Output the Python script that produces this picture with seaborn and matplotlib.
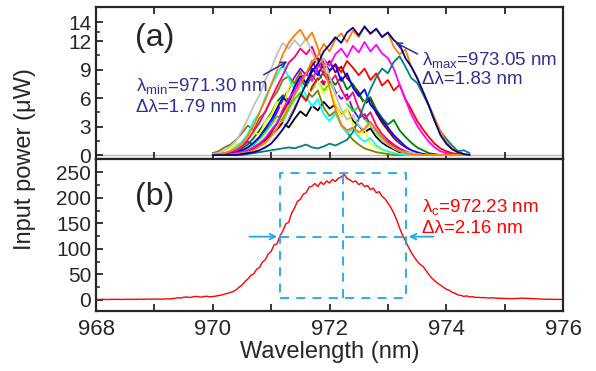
import numpy as np
import pandas as pd
import matplotlib
matplotlib.use('Agg')
import matplotlib.pyplot as plt
import seaborn as sns

# ── (a) individual spectra, sampled every 0.1 nm from 970.0 to 974.4 nm
WL_A = np.round(np.arange(970.0, 974.45, 0.1), 2)

yellow = [0.1,0.3,0.2,0.6,1.2, 1.0,1.8,2.4,2.1,3.5, 4.2,5.6,4.9,7.1,7.8, 8.6,7.4,8.9,7.7,6.5, 7.2,5.4,4.1,4.8,3.2,
          2.1,2.7,1.2,0.8,0.5, 0.3,0.2,0.1,0.1,0.0, 0,0,0,0,0, 0,0,0,0,0]
olive = [0.2,0.4,0.8,1.1,1.6, 2.3,3.1,2.6,3.9,4.5, 5.8,6.6,7.9,8.3,7.5, 8.8,7.2,6.1,6.8,5.0, 4.1,4.6,3.2,2.4,1.6,
         1.1,0.7,0.5,0.3,0.2, 0.1,0,0,0,0, 0,0,0,0,0, 0,0,0,0,0]
ltgray = [0.1,0.2,0.5,0.9,1.5, 2.6,3.8,5.2,6.3,7.9, 9.1,10.6,11.8,11.2,12.1, 11.4,12.3,10.8,9.6,10.2, 8.3,6.4,4.8,3.7,4.2,
          3.1,2.6,3.3,2.2,1.5, 1.1,0.7,0.4,0.3,0.2, 0.1,0,0,0,0, 0,0,0,0,0]
cyan = [0,0.1,0.2,0.4,0.9, 1.4,2.2,3.6,4.4,6.1, 7.3,8.4,9.6,8.1,6.9, 7.7,6.2,5.1,5.9,4.3, 3.6,4.4,3.1,2.3,2.8,
        1.9,1.4,1.8,1.0,0.6, 0.4,0.2,0.1,0,0, 0,0,0,0,0, 0,0,0,0,0]
pink = [0,0.1,0.2,0.3,0.5, 0.9,1.6,2.5,3.4,4.6, 5.9,7.2,8.4,9.7,10.3, 11.2,10.6,11.4,9.8,8.5, 7.6,8.4,6.9,5.8,6.6,
        4.9,3.8,4.5,3.1,2.2, 1.6,1.1,0.7,0.4,0.2, 0.1,0,0,0,0, 0,0,0,0,0]
magenta = [0,0,0,0.1,0.2, 0.3,0.5,0.8,1.2,1.8, 2.6,3.4,4.8,5.9,6.7, 7.9,8.6,7.8,9.3,10.1, 9.4,10.6,11.2,10.3,11.5,
           10.8,11.9,10.9,11.6,10.7, 10.2,9.1,7.4,5.8,4.3, 3.1,2.2,1.4,0.8,0.4, 0.2,0.1,0,0,0]
orange_r = [0,0,0,0,0.1, 0.2,0.3,0.5,0.9,1.3, 2.0,2.8,3.9,5.1,6.3, 7.4,8.6,9.8,10.5,11.7, 10.9,12.2,12.8,11.9,13.1,
            12.4,13.6,12.7,13.2,12.5, 12.9,11.4,10.6,11.1,9.3, 8.2,6.6,5.3,3.9,2.5, 1.4,0.7,0.3,0.1,0]
orange_l = [0,0.1,0.2,0.4,0.7, 1.2,2.0,3.1,4.5,5.8, 7.4,8.9,10.6,11.8,12.6, 13.2,12.1,12.9,11.3,9.4, 7.1,4.8,3.2,2.6,2.9,
            2.4,2.8,3.5,2.7,1.9, 1.2,0.8,0.4,0.2,0.1, 0,0,0,0,0, 0,0,0,0,0]
navy = [0,0,0,0,0, 0.1,0.2,0.3,0.5,0.8, 1.2,1.9,2.7,3.6,4.8, 6.2,7.5,8.8,9.6,10.9, 11.6,12.4,11.8,12.9,13.4,
        12.6,13.5,12.8,13.3,12.4, 12.9,12.1,11.6,10.2,9.3, 8.1,6.7,5.2,3.6,2.1, 1.2,0.6,0.3,0.1,0]
blue = [0,0,0.1,0.2,0.3, 0.5,0.8,1.3,1.9,2.8, 3.7,4.9,6.1,5.4,7.2, 8.3,7.6,9.1,8.4,9.8, 8.9,9.5,7.8,8.6,7.1,
        6.2,6.9,5.3,4.6,3.7, 2.9,2.1,1.5,0.9,0.5, 0.3,0.1,0,0,0, 0,0,0,0,0]
red = [0,0,0,0,0.1, 0.2,0.3,0.5,0.7,1.1, 1.6,2.3,3.2,4.1,5.3, 6.4,5.7,7.2,8.1,7.4, 8.8,9.6,8.7,9.9,9.2,
       8.4,9.1,7.9,8.6,7.3, 7.9,6.8,7.4,5.9,4.8, 3.6,2.7,1.9,1.2,0.7, 0.4,0.2,0.1,0,0]
green = [0,0,0.1,0.2,0.4, 0.7,1.1,1.8,2.6,3.5, 4.4,5.6,6.3,5.8,7.1, 7.9,7.2,8.4,7.6,8.8, 8.1,7.4,8.2,6.9,7.5,
         6.3,5.6,6.1,4.8,3.9, 3.2,3.7,2.6,1.9,1.3, 0.8,0.5,0.2,0.1,0, 0,0,0,0,0]
lime = [0,0,0,0.1,0.2, 0.4,0.7,1.1,1.7,2.4, 3.2,4.1,3.6,4.8,5.9, 6.6,5.8,6.9,7.7,6.8, 7.5,6.2,6.9,5.4,4.6,
        5.1,3.8,3.1,2.4,1.8, 1.2,0.8,0.5,0.3,0.1, 0,0,0,0,0, 0,0,0,0,0]
teal = [0,0,0,0,0, 0,0.1,0.2,0.3,0.4, 0.5,0.6,0.7,0.8,0.7, 0.9,1.1,0.8,0.7,0.9, 1.2,1.0,1.3,1.6,2.4,
        3.8,5.4,6.9,8.2,9.1, 8.6,9.8,10.4,9.3,8.1, 7.6,6.4,5.2,3.6,2.5, 1.7,1.0,0.4,0.5,0.2]
black = [0,0,0,0.1,0.1, 0.2,0.4,0.8,1.2,1.6, 2.1,2.7,3.4,2.9,3.8, 4.6,4.1,5.2,4.7,5.6, 4.9,5.3,4.2,4.8,3.6,
         3.1,2.4,2.8,1.9,1.3, 0.9,0.6,0.3,0.2,0.1, 0,0,0,0,0, 0,0,0,0,0]
purple = [0,0,0.1,0.2,0.5, 0.9,1.4,1.1,1.9,2.6, 3.3,4.5,5.8,6.9,8.2, 9.1,8.4,9.9,8.8,7.6, 8.1,6.7,5.9,6.4,4.8,
          3.9,4.3,3.2,2.6,1.9, 1.4,0.9,0.6,0.3,0.2, 0.1,0,0,0,0, 0,0,0,0,0]
wine = [0,0,0,0,0.1, 0.2,0.4,0.7,1.1,1.6, 2.4,3.3,4.5,5.6,6.8, 7.9,8.6,9.4,10.2,9.1, 9.9,8.7,9.3,8.1,7.4,
        6.6,5.3,5.9,4.4,3.4, 2.6,1.8,1.2,0.7,0.4, 0.2,0.1,0,0,0, 0,0,0,0,0]
white = [0,0,0,0,0, 0.1,0.2,0.4,0.7,1.1, 1.6,2.3,3.1,4.2,5.4, 6.3,7.1,6.4,7.6,8.2, 7.3,6.1,6.8,5.5,6.2,
         4.9,5.6,4.3,3.6,2.8, 2.1,1.5,1.0,0.6,0.3, 0.1,0,0,0,0, 0,0,0,0,0]

# draw order (back -> front) and Origin-like colours
RUNS = [
    ('black', black, '#000000'), ('purple', purple, '#8000FF'), ('wine', wine, '#800000'),
    ('lime', lime, '#00FF00'), ('green', green, '#008000'), ('yellow', yellow, '#FFFF00'),
    ('olive', olive, '#808000'), ('cyan', cyan, '#00FFFF'), ('red', red, '#FF0000'),
    ('blue', blue, '#0000FF'), ('white', white, '#FFFFFF'), ('magenta', magenta, '#FF00FF'),
    ('pink', pink, '#FF0080'), ('teal', teal, '#008080'), ('ltgray', ltgray, '#C0C0C0'),
    ('orange_l', orange_l, '#FF8000'), ('orange_r', orange_r, '#FF8000'), ('navy', navy, '#000090'),
]

# ── (b) summed spectrum, every 0.05 nm from 968.00 to 976.00 nm
sum_power = [
    1.2,1.0,1.3,1.1,0.9,1.2,1.4,1.1,1.3,1.0,1.2,1.5,1.3,1.1,1.4,1.6,1.3,1.5,1.8,1.4,1.7,1.9,1.6,2.0,2.2,1.9,2.4,
    3.1,4.5,3.8,5.2,6.0,4.9,5.8,7.1,6.2,5.5,6.8,7.4,6.1,6.9,
    7.5,8.8,9.6,11.5,12.8,14.9,16.5,
    20,25,29,36,41,48,51,60,64,74,79,90,95,108,110,125,
    135,149,152,170,180,193,
    197,207,210,221,223,
    228,222,231,226,233,229,236,232,238,241,246,
    238,235,231,233,226,229,222,224,216,219,210,212,
    203,198,190,181,170,157,141,127,
    116,104,93,84,76,70,66,58,50,43,38,33,29,
    25,21,19,15,13,10,9,7,8,6,6.5,5,
    5.2,4.6,4.8,4.1,3.9,4.3,3.6,3.4,3.1,2.9,3.0,2.6,2.7,2.9,3.4,3.6,3.3,3.0,2.6,2.2,2.0,1.8,1.7,1.5,1.4,1.3,1.2,1.2,1.1,1.0,
]
WL_B = np.linspace(968.0, 976.0, len(sum_power))

LAMBDA_C = 972.23
FWHM = 2.16
PEAK = 248

for name, vals, _ in RUNS:
    assert len(vals) == len(WL_A), name

df_a = pd.concat([pd.DataFrame({'wl': WL_A, 'p': vals, 'run': name}) for name, vals, _ in RUNS])
df_b = pd.DataFrame({'wl': WL_B, 'p': sum_power})

sns.set_style('ticks')
plt.rcParams['font.family'] = ['Liberation Sans', 'DejaVu Sans']
plt.rcParams['mathtext.fontset'] = 'custom'
plt.rcParams['mathtext.rm'] = 'Liberation Sans'
plt.rcParams['axes.linewidth'] = 1.6

fig = plt.figure(figsize=(5.96, 3.71), dpi=100)
ax1 = fig.add_axes([0.1611, 0.5714, 0.7836, 0.4097])
ax2 = fig.add_axes([0.1611, 0.1625, 0.7836, 0.4089])

# ── panel (a)
ax1.axhline(0, color='#B8B8B8', lw=1.0, zorder=0)
sns.lineplot(data=df_a, x='wl', y='p', hue='run', palette=[c for _, _, c in RUNS],
             hue_order=[n for n, _, _ in RUNS], estimator=None, lw=1.3, legend=False, ax=ax1)
ax1.set_xlim(968, 976)
ax1.set_ylim(-0.42, 15.58)
ax1.set_yticks([0, 3, 6, 9, 12, 14])
ax1.set_yticks([1.5, 4.5, 7.5, 10.5, 13], minor=True)
ax1.set_xticks(range(968, 977))
ax1.tick_params(axis='x', which='both', direction='in', top=True, bottom=True, labelbottom=False, length=5, width=1.3)
ax1.tick_params(axis='y', which='major', direction='in', length=5, width=1.3, labelsize=15)
ax1.tick_params(axis='y', which='minor', direction='in', length=3, width=1.1)
ax1.set_xlabel('')
ax1.set_ylabel('')

blue_txt = '#2E3192'
ax1.text(969.0, 12.3, '(a)', fontsize=23, ha='center', va='center')
ax1.text(968.68, 7.2, r'λ$_{\mathregular{min}}$=971.30 nm', color=blue_txt, fontsize=13.5, ha='left', va='center')
ax1.text(968.68, 5.0, 'Δλ=1.79 nm', color=blue_txt, fontsize=13.5, ha='left', va='center')
ax1.text(973.58, 9.9, r'λ$_{\mathregular{max}}$=973.05 nm', color=blue_txt, fontsize=13.5, ha='left', va='center')
ax1.text(973.58, 7.9, 'Δλ=1.83 nm', color=blue_txt, fontsize=13.5, ha='left', va='center')
ax1.annotate('', xy=(971.32, 10.0), xytext=(970.83, 8.3),
             arrowprops=dict(arrowstyle='->', color=blue_txt, lw=1.1))
ax1.annotate('', xy=(973.08, 12.0), xytext=(973.55, 10.5),
             arrowprops=dict(arrowstyle='->', color=blue_txt, lw=1.1))

# ── panel (b)
sns.lineplot(data=df_b, x='wl', y='p', color='#FF0000', lw=1.0, estimator=None, ax=ax2)
ax2.set_xlim(968, 976)
ax2.set_ylim(-21, 276)
ax2.set_yticks(range(0, 251, 50))
ax2.set_yticks(range(25, 251, 50), minor=True)
ax2.set_xticks(range(968, 977))
ax2.set_xticklabels([str(v) if v % 2 == 0 else '' for v in range(968, 977)])
ax2.tick_params(axis='x', which='major', direction='in', length=5, width=1.3, labelsize=16, pad=6)
ax2.tick_params(axis='y', which='major', direction='in', length=5, width=1.3, labelsize=15)
ax2.tick_params(axis='y', which='minor', direction='in', length=3, width=1.1)
ax2.set_xlabel('Wavelength (nm)', fontsize=17, labelpad=1)
ax2.set_ylabel('')

dash = '#1FA8E6'
lo, hi = LAMBDA_C - FWHM / 2, LAMBDA_C + FWHM / 2
box_kw = dict(color=dash, lw=1.3, ls=(0, (5, 4)))
ax2.plot([lo, hi, hi, lo, lo], [3, 3, PEAK, PEAK, 3], **box_kw)
ax2.plot([LAMBDA_C, LAMBDA_C], [3, PEAK], **box_kw)
ax2.plot([lo, hi], [PEAK / 2, PEAK / 2], **box_kw)
ax2.annotate('', xy=(lo, PEAK / 2), xytext=(970.58, PEAK / 2),
             arrowprops=dict(arrowstyle='->', color=dash, lw=1.3))
ax2.annotate('', xy=(hi, PEAK / 2), xytext=(973.83, PEAK / 2),
             arrowprops=dict(arrowstyle='->', color=dash, lw=1.3))

ax2.text(969.0, 202, '(b)', fontsize=23, ha='center', va='center')
ax2.text(973.59, 180, r'λ$_{\mathregular{c}}$=972.23 nm', color='#FF0000', fontsize=13.5, ha='left', va='center')
ax2.text(973.59, 139, 'Δλ=2.16 nm', color='#FF0000', fontsize=13.5, ha='left', va='center')

fig.text(0.042, 0.571, 'Input power (μW)', rotation=90, ha='center', va='center', fontsize=17)

fig.savefig('out.png', dpi=100)
